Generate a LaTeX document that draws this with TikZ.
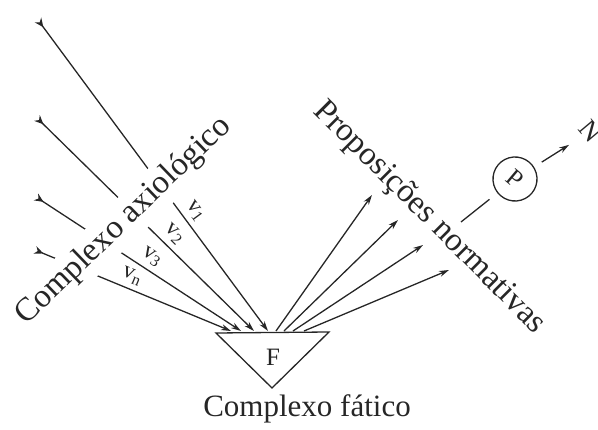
\documentclass[tikz,border=0pt]{standalone}
\usepackage{fontspec}
\setmainfont{Liberation Serif}
\usetikzlibrary{arrows.meta}
\begin{document}
\begin{tikzpicture}[x=1pt,y=-1pt,
    line width=1.3pt, draw=black!85, text=black!85,
    big/.style={font=\fontsize{33}{38}\selectfont},
    mid/.style={font=\fontsize{25}{30}\selectfont},
    vlab/.style={font=\fontsize{23}{26}\selectfont, sloped, above=4pt, inner sep=1pt},
    gaptext/.style={big, fill=white, inner sep=6pt},
    intip/.style={{Stealth[reversed,length=9pt,width=8pt]}-{Stealth[length=10pt,width=6pt]}},
    outtip/.style={-{Stealth[length=10pt,width=6pt]}}]
  \useasboundingbox (0,0) rectangle (598,430);
  \path
    (38,20) coordinate (t1)
    (37,118) coordinate (t2)
    (36,197) coordinate (t3)
    (35,250) coordinate (t4)
    (268,331) coordinate (i1)
    (254,331) coordinate (i2)
    (241,331) coordinate (i3)
    (231,331) coordinate (i4)
    (276,331) coordinate (o1)
    (284,331) coordinate (o2)
    (293,331) coordinate (o3)
    (304,331) coordinate (o4)
    (372,195) coordinate (e1)
    (398,220) coordinate (e2)
    (423,245) coordinate (e3)
    (449,270) coordinate (e4)
    (461,222) coordinate (p0);
  \draw (216,333) -- (329,332) -- (272,388) -- cycle;
  \node[mid] (F) at (273,357) {F};
  \node[draw, circle, minimum size=44pt, inner sep=0pt, rotate=-40, mid] (P) at (515,179) {P};
  \node[rotate=-50, font=\fontsize{27}{30}\selectfont] (N) at (591,131) {N};
  \begin{scope}[intip]
    \draw (t1) to node[vlab, pos=.64]{v\textsubscript{1}} (i1);
    \draw (t2) to node[vlab, pos=.59]{v\textsubscript{2}} (i2);
    \draw (t3) to node[vlab, pos=.53]{v\textsubscript{3}} (i3);
    \draw (t4) to node[vlab, pos=.47]{v\textsubscript{n}} (i4);
  \end{scope}
  \begin{scope}[outtip]
    \draw (o1) to (e1);
    \draw (o2) to (e2);
    \draw (o3) to (e3);
    \draw (o4) to (e4);
    \draw[-, shorten >=10pt] (p0) to (P);
    \draw[shorten <=9pt, shorten >=13pt] (P) to (N);
  \end{scope}
  \node[gaptext, rotate=44] (axio) at (124,221) {Complexo axiológico};
  \node[big, rotate=-45] (norm) at (429,218) {Proposições normativas};
  \node[font=\fontsize{31}{36}\selectfont] (fat) at (307,409) {Complexo fático};
\end{tikzpicture}
\end{document}
